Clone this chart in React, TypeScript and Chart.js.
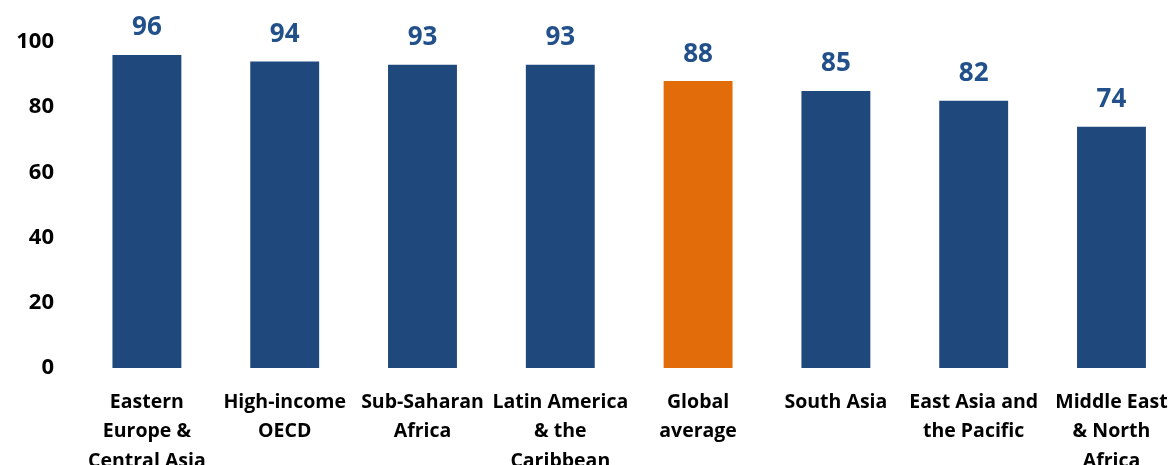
import React, { useEffect, useRef } from "react";
import { Chart, registerables } from "chart.js";

Chart.register(...registerables);

const categories: string[][] = [
  ["Eastern", "Europe &", "Central Asia"],
  ["High-income", "OECD"],
  ["Sub-Saharan", "Africa"],
  ["Latin America", "& the", "Caribbean"],
  ["Global", "average"],
  ["South Asia"],
  ["East Asia and", "the Pacific"],
  ["Middle East", "& North", "Africa"],
];
const values: number[] = [96, 94, 93, 93, 88, 85, 82, 74];
const highlightIndex = 4;
const yTicks: number[] = [0, 20, 40, 60, 80, 100];

const BLUE = "#1F497D";
const ORANGE = "#E36C0A";
const LABEL_BLUE = "#22508A";
const FONT = "'Open Sans', Lato, sans-serif";

const valueLabels = {
  id: "valueLabels",
  afterDatasetsDraw(chart: any) {
    const ctx = chart.ctx;
    const meta = chart.getDatasetMeta(0);
    ctx.save();
    ctx.font = `bold 26px ${FONT}`;
    ctx.fillStyle = LABEL_BLUE;
    ctx.textAlign = "center";
    ctx.textBaseline = "middle";
    meta.data.forEach((bar: any, i: number) => {
      ctx.fillText(String(values[i]), bar.x, bar.y - 27);
    });
    ctx.restore();
  },
};

export default function App() {
  const ref = useRef<HTMLCanvasElement | null>(null);
  useEffect(() => {
    if (!ref.current) return;
    const chart = new Chart(ref.current, {
      type: "bar",
      data: {
        labels: categories,
        datasets: [
          {
            data: values,
            backgroundColor: values.map((_, i) => (i === highlightIndex ? ORANGE : BLUE)),
            categoryPercentage: 1,
            barPercentage: 0.5,
          },
        ],
      },
      options: {
        animation: false,
        responsive: true,
        maintainAspectRatio: false,
        layout: { padding: { top: 42, right: 5, left: 0, bottom: 0 } },
        plugins: { legend: { display: false }, tooltip: { enabled: false } },
        scales: {
          x: {
            grid: { display: false, drawTicks: false },
            border: { display: false },
            ticks: {
              color: "#000",
              font: { family: FONT, size: 19.5, weight: "bold", lineHeight: 1.5 },
              padding: 20,
              maxRotation: 0,
              autoSkip: false,
            },
            afterFit(scale: any) {
              scale.height = 112;
            },
          },
          y: {
            min: 0,
            max: 100,
            afterBuildTicks(scale: any) {
              scale.ticks = yTicks.map((v) => ({ value: v }));
            },
            grid: { display: false, drawTicks: false },
            border: { display: false },
            ticks: {
              color: "#000",
              font: { family: FONT, size: 22, weight: "bold" },
              padding: 24,
            },
            afterFit(scale: any) {
              scale.width = 78;
            },
          },
        },
      },
      plugins: [valueLabels],
    });
    return () => chart.destroy();
  }, []);
  return (
    <div style={{ position: "fixed", left: 0, top: 0, width: 1173, height: 465, overflow: "hidden", background: "#fff" }}>
      <div style={{ position: "absolute", left: 0, top: 0, width: 1188, height: 480 }}>
        <canvas ref={ref} />
      </div>
    </div>
  );
}
